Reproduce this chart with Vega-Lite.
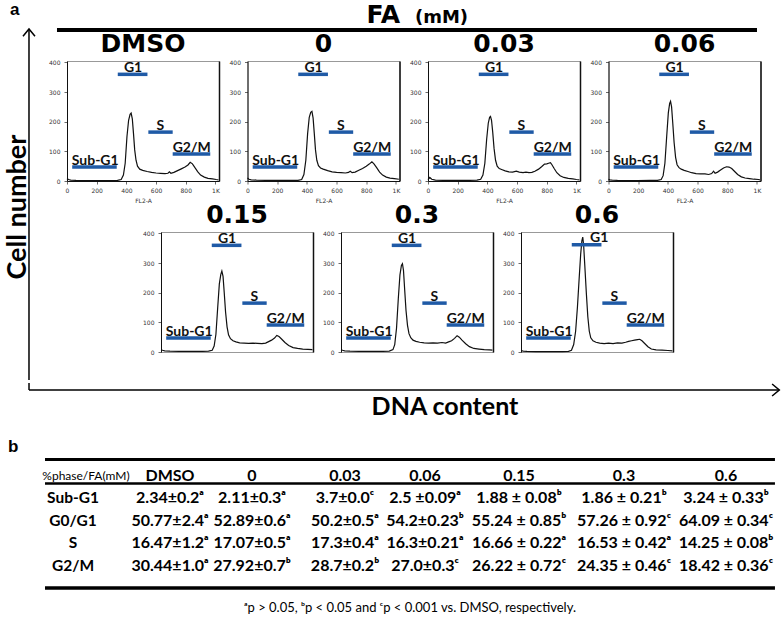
{
"$schema":"https://vega.github.io/schema/vega-lite/v6.json",
"padding":0,
"background":"#ffffff",
"config":{
 "font":"DejaVu Sans",
 "view":{"stroke":null},
 "axis":{"grid":false,"labelFont":"DejaVu Sans","labelFontSize":6,"labelColor":"#333","tickColor":"#444","tickWidth":0.8,"domainColor":"#111","domainWidth":1,"titleFont":"DejaVu Sans","titleFontSize":6,"titleFontWeight":"normal","titleColor":"#333"},
 "axisX":{"values":[0,50,100,150,200,250,300,350,400,450,500,550,600,650,700,750,800,850,900,950,1000],"labelExpr":"datum.value === 1000 ? '1K' : (datum.value % 200 === 0 ? datum.label : '')","labelFlush":false,"labelOverlap":false,"labelPadding":3,"titlePadding":4},
 "axisY":{"values":[0,20,40,60,80,100,120,140,160,180,200,220,240,260,280,300,320,340,360,380,400],"labelExpr":"datum.value % 100 === 0 ? datum.label : ''","labelOverlap":false,"labelPadding":4},
 "title":{"font":"DejaVu Sans","fontWeight":"bold","fontSize":25,"color":"#000","offset":2}
},
"datasets":{
 "hist":[
  {"p":"DMSO","x":0,"y":8},{"p":"DMSO","x":10,"y":5},{"p":"DMSO","x":25,"y":3},{"p":"DMSO","x":60,"y":2},{"p":"DMSO","x":120,"y":1},{"p":"DMSO","x":200,"y":1},{"p":"DMSO","x":280,"y":1},{"p":"DMSO","x":340,"y":2},{"p":"DMSO","x":365,"y":5},{"p":"DMSO","x":380,"y":20},{"p":"DMSO","x":392,"y":60},{"p":"DMSO","x":404,"y":150},{"p":"DMSO","x":415,"y":205},{"p":"DMSO","x":425,"y":225},{"p":"DMSO","x":432,"y":229},{"p":"DMSO","x":440,"y":210},{"p":"DMSO","x":448,"y":160},{"p":"DMSO","x":456,"y":105},{"p":"DMSO","x":465,"y":70},{"p":"DMSO","x":475,"y":50},{"p":"DMSO","x":490,"y":40},{"p":"DMSO","x":510,"y":36},{"p":"DMSO","x":540,"y":32},{"p":"DMSO","x":570,"y":29},{"p":"DMSO","x":600,"y":27},{"p":"DMSO","x":630,"y":26},{"p":"DMSO","x":660,"y":25},{"p":"DMSO","x":680,"y":26},{"p":"DMSO","x":690,"y":31},{"p":"DMSO","x":700,"y":26},{"p":"DMSO","x":720,"y":29},{"p":"DMSO","x":745,"y":35},{"p":"DMSO","x":770,"y":41},{"p":"DMSO","x":795,"y":47},{"p":"DMSO","x":815,"y":54},{"p":"DMSO","x":830,"y":63},{"p":"DMSO","x":845,"y":58},{"p":"DMSO","x":862,"y":45},{"p":"DMSO","x":880,"y":32},{"p":"DMSO","x":900,"y":20},{"p":"DMSO","x":925,"y":13},{"p":"DMSO","x":950,"y":9},{"p":"DMSO","x":980,"y":7},{"p":"DMSO","x":1005,"y":5},{"p":"DMSO","x":1020,"y":4},
  {"p":"0","x":0,"y":10},{"p":"0","x":10,"y":6},{"p":"0","x":25,"y":4},{"p":"0","x":60,"y":3},{"p":"0","x":120,"y":2},{"p":"0","x":200,"y":2},{"p":"0","x":280,"y":2},{"p":"0","x":340,"y":2},{"p":"0","x":365,"y":5},{"p":"0","x":380,"y":22},{"p":"0","x":393,"y":70},{"p":"0","x":405,"y":160},{"p":"0","x":416,"y":215},{"p":"0","x":426,"y":232},{"p":"0","x":434,"y":235},{"p":"0","x":442,"y":212},{"p":"0","x":450,"y":160},{"p":"0","x":458,"y":105},{"p":"0","x":467,"y":70},{"p":"0","x":478,"y":52},{"p":"0","x":492,"y":44},{"p":"0","x":510,"y":40},{"p":"0","x":540,"y":35},{"p":"0","x":570,"y":31},{"p":"0","x":600,"y":29},{"p":"0","x":630,"y":28},{"p":"0","x":660,"y":27},{"p":"0","x":680,"y":29},{"p":"0","x":692,"y":33},{"p":"0","x":705,"y":28},{"p":"0","x":725,"y":30},{"p":"0","x":750,"y":36},{"p":"0","x":775,"y":42},{"p":"0","x":800,"y":50},{"p":"0","x":820,"y":57},{"p":"0","x":838,"y":65},{"p":"0","x":852,"y":58},{"p":"0","x":870,"y":45},{"p":"0","x":890,"y":30},{"p":"0","x":910,"y":20},{"p":"0","x":935,"y":13},{"p":"0","x":960,"y":10},{"p":"0","x":990,"y":8},{"p":"0","x":1020,"y":6},
  {"p":"0.03","x":0,"y":5},{"p":"0.03","x":12,"y":12},{"p":"0.03","x":25,"y":6},{"p":"0.03","x":50,"y":3},{"p":"0.03","x":100,"y":2},{"p":"0.03","x":200,"y":2},{"p":"0.03","x":280,"y":2},{"p":"0.03","x":330,"y":3},{"p":"0.03","x":355,"y":6},{"p":"0.03","x":370,"y":20},{"p":"0.03","x":383,"y":60},{"p":"0.03","x":395,"y":140},{"p":"0.03","x":406,"y":195},{"p":"0.03","x":415,"y":215},{"p":"0.03","x":421,"y":218},{"p":"0.03","x":428,"y":205},{"p":"0.03","x":436,"y":165},{"p":"0.03","x":445,"y":110},{"p":"0.03","x":455,"y":70},{"p":"0.03","x":466,"y":50},{"p":"0.03","x":480,"y":42},{"p":"0.03","x":500,"y":38},{"p":"0.03","x":520,"y":34},{"p":"0.03","x":545,"y":31},{"p":"0.03","x":570,"y":30},{"p":"0.03","x":595,"y":33},{"p":"0.03","x":615,"y":30},{"p":"0.03","x":640,"y":28},{"p":"0.03","x":660,"y":30},{"p":"0.03","x":680,"y":28},{"p":"0.03","x":700,"y":29},{"p":"0.03","x":720,"y":33},{"p":"0.03","x":745,"y":40},{"p":"0.03","x":765,"y":48},{"p":"0.03","x":785,"y":57},{"p":"0.03","x":800,"y":58},{"p":"0.03","x":812,"y":60},{"p":"0.03","x":825,"y":62},{"p":"0.03","x":835,"y":55},{"p":"0.03","x":850,"y":42},{"p":"0.03","x":868,"y":28},{"p":"0.03","x":890,"y":18},{"p":"0.03","x":915,"y":12},{"p":"0.03","x":945,"y":9},{"p":"0.03","x":975,"y":7},{"p":"0.03","x":1000,"y":5},{"p":"0.03","x":1020,"y":4},
  {"p":"0.06","x":0,"y":6},{"p":"0.06","x":10,"y":4},{"p":"0.06","x":25,"y":3},{"p":"0.06","x":60,"y":2},{"p":"0.06","x":120,"y":1},{"p":"0.06","x":200,"y":1},{"p":"0.06","x":280,"y":2},{"p":"0.06","x":330,"y":2},{"p":"0.06","x":355,"y":5},{"p":"0.06","x":368,"y":18},{"p":"0.06","x":380,"y":60},{"p":"0.06","x":392,"y":150},{"p":"0.06","x":403,"y":230},{"p":"0.06","x":412,"y":262},{"p":"0.06","x":418,"y":269},{"p":"0.06","x":425,"y":250},{"p":"0.06","x":433,"y":195},{"p":"0.06","x":442,"y":130},{"p":"0.06","x":452,"y":80},{"p":"0.06","x":462,"y":55},{"p":"0.06","x":475,"y":45},{"p":"0.06","x":490,"y":40},{"p":"0.06","x":510,"y":36},{"p":"0.06","x":535,"y":32},{"p":"0.06","x":560,"y":28},{"p":"0.06","x":590,"y":25},{"p":"0.06","x":620,"y":24},{"p":"0.06","x":650,"y":24},{"p":"0.06","x":675,"y":22},{"p":"0.06","x":695,"y":25},{"p":"0.06","x":708,"y":33},{"p":"0.06","x":718,"y":26},{"p":"0.06","x":735,"y":30},{"p":"0.06","x":755,"y":37},{"p":"0.06","x":775,"y":44},{"p":"0.06","x":795,"y":48},{"p":"0.06","x":812,"y":47},{"p":"0.06","x":830,"y":42},{"p":"0.06","x":850,"y":32},{"p":"0.06","x":870,"y":22},{"p":"0.06","x":895,"y":14},{"p":"0.06","x":920,"y":10},{"p":"0.06","x":950,"y":8},{"p":"0.06","x":980,"y":6},{"p":"0.06","x":1010,"y":5},{"p":"0.06","x":1020,"y":4},
  {"p":"0.15","x":0,"y":8},{"p":"0.15","x":10,"y":6},{"p":"0.15","x":25,"y":4},{"p":"0.15","x":60,"y":3},{"p":"0.15","x":120,"y":2},{"p":"0.15","x":200,"y":2},{"p":"0.15","x":280,"y":2},{"p":"0.15","x":320,"y":3},{"p":"0.15","x":345,"y":6},{"p":"0.15","x":358,"y":20},{"p":"0.15","x":370,"y":60},{"p":"0.15","x":382,"y":150},{"p":"0.15","x":393,"y":230},{"p":"0.15","x":403,"y":262},{"p":"0.15","x":410,"y":273},{"p":"0.15","x":418,"y":255},{"p":"0.15","x":426,"y":200},{"p":"0.15","x":435,"y":135},{"p":"0.15","x":445,"y":85},{"p":"0.15","x":455,"y":58},{"p":"0.15","x":468,"y":45},{"p":"0.15","x":485,"y":38},{"p":"0.15","x":505,"y":34},{"p":"0.15","x":530,"y":31},{"p":"0.15","x":560,"y":30},{"p":"0.15","x":590,"y":29},{"p":"0.15","x":620,"y":30},{"p":"0.15","x":650,"y":29},{"p":"0.15","x":680,"y":28},{"p":"0.15","x":705,"y":30},{"p":"0.15","x":725,"y":35},{"p":"0.15","x":745,"y":40},{"p":"0.15","x":765,"y":47},{"p":"0.15","x":780,"y":56},{"p":"0.15","x":795,"y":52},{"p":"0.15","x":812,"y":44},{"p":"0.15","x":835,"y":32},{"p":"0.15","x":860,"y":22},{"p":"0.15","x":890,"y":15},{"p":"0.15","x":920,"y":12},{"p":"0.15","x":955,"y":10},{"p":"0.15","x":990,"y":9},{"p":"0.15","x":1020,"y":8},
  {"p":"0.3","x":0,"y":8},{"p":"0.3","x":10,"y":6},{"p":"0.3","x":25,"y":4},{"p":"0.3","x":60,"y":3},{"p":"0.3","x":120,"y":2},{"p":"0.3","x":200,"y":2},{"p":"0.3","x":280,"y":2},{"p":"0.3","x":325,"y":3},{"p":"0.3","x":350,"y":8},{"p":"0.3","x":362,"y":25},{"p":"0.3","x":374,"y":80},{"p":"0.3","x":386,"y":180},{"p":"0.3","x":397,"y":260},{"p":"0.3","x":407,"y":292},{"p":"0.3","x":414,"y":298},{"p":"0.3","x":421,"y":275},{"p":"0.3","x":429,"y":210},{"p":"0.3","x":438,"y":140},{"p":"0.3","x":448,"y":90},{"p":"0.3","x":458,"y":62},{"p":"0.3","x":470,"y":48},{"p":"0.3","x":485,"y":40},{"p":"0.3","x":505,"y":36},{"p":"0.3","x":530,"y":33},{"p":"0.3","x":560,"y":31},{"p":"0.3","x":590,"y":30},{"p":"0.3","x":620,"y":31},{"p":"0.3","x":650,"y":30},{"p":"0.3","x":680,"y":32},{"p":"0.3","x":705,"y":30},{"p":"0.3","x":725,"y":34},{"p":"0.3","x":745,"y":38},{"p":"0.3","x":765,"y":46},{"p":"0.3","x":782,"y":55},{"p":"0.3","x":797,"y":50},{"p":"0.3","x":815,"y":40},{"p":"0.3","x":840,"y":28},{"p":"0.3","x":865,"y":18},{"p":"0.3","x":895,"y":12},{"p":"0.3","x":930,"y":10},{"p":"0.3","x":965,"y":8},{"p":"0.3","x":1000,"y":7},{"p":"0.3","x":1020,"y":6},
  {"p":"0.6","x":0,"y":5},{"p":"0.6","x":15,"y":3},{"p":"0.6","x":40,"y":2},{"p":"0.6","x":100,"y":1},{"p":"0.6","x":200,"y":1},{"p":"0.6","x":280,"y":1},{"p":"0.6","x":320,"y":2},{"p":"0.6","x":340,"y":6},{"p":"0.6","x":355,"y":25},{"p":"0.6","x":368,"y":70},{"p":"0.6","x":380,"y":150},{"p":"0.6","x":392,"y":250},{"p":"0.6","x":402,"y":330},{"p":"0.6","x":410,"y":375},{"p":"0.6","x":416,"y":388},{"p":"0.6","x":422,"y":360},{"p":"0.6","x":430,"y":290},{"p":"0.6","x":440,"y":200},{"p":"0.6","x":450,"y":120},{"p":"0.6","x":460,"y":70},{"p":"0.6","x":470,"y":48},{"p":"0.6","x":485,"y":38},{"p":"0.6","x":505,"y":33},{"p":"0.6","x":530,"y":30},{"p":"0.6","x":560,"y":28},{"p":"0.6","x":590,"y":30},{"p":"0.6","x":620,"y":28},{"p":"0.6","x":650,"y":31},{"p":"0.6","x":680,"y":30},{"p":"0.6","x":705,"y":33},{"p":"0.6","x":725,"y":36},{"p":"0.6","x":745,"y":38},{"p":"0.6","x":765,"y":40},{"p":"0.6","x":785,"y":42},{"p":"0.6","x":800,"y":43},{"p":"0.6","x":815,"y":38},{"p":"0.6","x":835,"y":28},{"p":"0.6","x":855,"y":18},{"p":"0.6","x":878,"y":10},{"p":"0.6","x":910,"y":7},{"p":"0.6","x":950,"y":6},{"p":"0.6","x":990,"y":5},{"p":"0.6","x":1020,"y":4}
 ],
 "g":[{"ph":"Sub-G1","lo":35,"hi":335,"lv":47,"xm":190},{"ph":"G1","lo":342,"hi":542,"lv":360,"xm":445},{"ph":"S","lo":548,"hi":712,"lv":165,"xm":628},{"ph":"G2/M","lo":712,"hi":965,"lv":91,"xm":840}],
 "g6":[{"ph":"Sub-G1","lo":35,"hi":335,"lv":47,"xm":190},{"ph":"G1","lo":342,"hi":542,"lv":362,"xm":527},{"ph":"S","lo":548,"hi":712,"lv":165,"xm":628},{"ph":"G2/M","lo":712,"hi":965,"lv":91,"xm":840}],
 "tbl":[
  {"r":0,"c":0,"t":"%phase/FA(mM)"},{"r":0,"c":1,"t":"DMSO"},{"r":0,"c":2,"t":"0"},{"r":0,"c":3,"t":"0.03"},{"r":0,"c":4,"t":"0.06"},{"r":0,"c":5,"t":"0.15"},{"r":0,"c":6,"t":"0.3"},{"r":0,"c":7,"t":"0.6"},
  {"r":1,"c":0,"t":"Sub-G1"},{"r":1,"c":1,"t":"2.34±0.2ᵃ"},{"r":1,"c":2,"t":"2.11±0.3ᵃ"},{"r":1,"c":3,"t":"3.7±0.0ᶜ"},{"r":1,"c":4,"t":"2.5 ±0.09ᵃ"},{"r":1,"c":5,"t":"1.88 ± 0.08ᵇ"},{"r":1,"c":6,"t":"1.86 ± 0.21ᵇ"},{"r":1,"c":7,"t":"3.24 ± 0.33ᵇ"},
  {"r":2,"c":0,"t":"G0/G1"},{"r":2,"c":1,"t":"50.77±2.4ᵃ"},{"r":2,"c":2,"t":"52.89±0.6ᵃ"},{"r":2,"c":3,"t":"50.2±0.5ᵃ"},{"r":2,"c":4,"t":"54.2±0.23ᵇ"},{"r":2,"c":5,"t":"55.24 ± 0.85ᵇ"},{"r":2,"c":6,"t":"57.26 ± 0.92ᶜ"},{"r":2,"c":7,"t":"64.09 ± 0.34ᶜ"},
  {"r":3,"c":0,"t":"S"},{"r":3,"c":1,"t":"16.47±1.2ᵃ"},{"r":3,"c":2,"t":"17.07±0.5ᵃ"},{"r":3,"c":3,"t":"17.3±0.4ᵃ"},{"r":3,"c":4,"t":"16.3±0.21ᵃ"},{"r":3,"c":5,"t":"16.66 ± 0.22ᵃ"},{"r":3,"c":6,"t":"16.53 ± 0.42ᵃ"},{"r":3,"c":7,"t":"14.25 ± 0.08ᵇ"},
  {"r":4,"c":0,"t":"G2/M"},{"r":4,"c":1,"t":"30.44±1.0ᵃ"},{"r":4,"c":2,"t":"27.92±0.7ᵇ"},{"r":4,"c":3,"t":"28.7±0.2ᵇ"},{"r":4,"c":4,"t":"27.0±0.3ᶜ"},{"r":4,"c":5,"t":"26.22 ± 0.72ᶜ"},{"r":4,"c":6,"t":"24.35 ± 0.46ᶜ"},{"r":4,"c":7,"t":"18.42 ± 0.36ᶜ"}
 ]
},
"spacing":0,
"vconcat":[
 {"spacing":0,"hconcat":[
  {"width":48,"height":380,
   "layer":[
    {"data":{"values":[{}]},"mark":{"type":"rule","color":"#000","strokeWidth":1.5},
     "encoding":{"x":{"datum":0.604,"type":"quantitative","scale":{"domain":[0,1],"nice":false,"zero":false},"axis":null},"y":{"datum":0.0763,"type":"quantitative","scale":{"domain":[0,1],"nice":false,"zero":false,"reverse":true},"axis":null},"y2":{"datum":1}}},
    {"data":{"values":[{}]},"mark":{"type":"point","shape":"M -1 1.2 L 0 0 L 1 1.2","size":144,"filled":false,"color":"#000","strokeWidth":1.5,"opacity":1},
     "encoding":{"x":{"datum":0.604,"type":"quantitative","axis":null},"y":{"datum":0.0763,"type":"quantitative","axis":null}}},
    {"data":{"values":[{}]},"mark":{"type":"text","text":"Cell number","angle":270,"font":"Lato","fontWeight":"bold","fontSize":27,"color":"#000","align":"center","baseline":"middle"},
     "encoding":{"x":{"datum":0.375,"type":"quantitative","axis":null},"y":{"datum":0.545,"type":"quantitative","axis":null}}},
    {"data":{"values":[{}]},"mark":{"type":"text","text":"a","font":"Liberation Sans","fontWeight":"bold","fontSize":17,"color":"#000","align":"left","baseline":"middle"},
     "encoding":{"x":{"datum":0.208,"type":"quantitative","axis":null},"y":{"datum":0.026,"type":"quantitative","axis":null}}}
   ]},
  {"spacing":-2,"vconcat":[
   {"width":700,"height":33,
    "layer":[
     {"data":{"values":[{}]},"mark":{"type":"text","text":"FA","font":"DejaVu Sans","fontWeight":"bold","fontSize":25,"color":"#000","align":"right","baseline":"alphabetic"},
      "encoding":{"x":{"datum":0.4757,"type":"quantitative","scale":{"domain":[0,1],"nice":false,"zero":false},"axis":null},"y":{"datum":0.697,"type":"quantitative","scale":{"domain":[0,1],"nice":false,"zero":false,"reverse":true},"axis":null}}},
     {"data":{"values":[{}]},"mark":{"type":"text","text":"(mM)","font":"DejaVu Sans","fontWeight":"bold","fontSize":18,"color":"#000","align":"left","baseline":"alphabetic"},
      "encoding":{"x":{"datum":0.4971,"type":"quantitative","axis":null},"y":{"datum":0.697,"type":"quantitative","axis":null}}},
     {"data":{"values":[{}]},"mark":{"type":"rule","color":"#000","strokeWidth":4},
      "encoding":{"x":{"datum":-0.0143,"type":"quantitative","axis":null},"x2":{"datum":0.9857},"y":{"datum":0.909,"type":"quantitative","axis":null}}}
    ]},
   {"spacing":-2,"vconcat":[
    {"spacing":6.5,"hconcat":[
     {"width":152,"height":120,"title":"DMSO","view":{"stroke":"#999"},
      "layer":[
       {"data":{"name":"hist"},"transform":[{"filter":"datum.p === 'DMSO'"}],"mark":{"type":"line","color":"#111","strokeWidth":1.2},
        "encoding":{"x":{"field":"x","type":"quantitative","scale":{"domain":[0,1024],"nice":false,"zero":false},"axis":{"title":"FL2-A","tickSize":{"condition":{"test":"datum.value % 200 === 0","value":3},"value":1.5}}},"y":{"field":"y","type":"quantitative","scale":{"domain":[0,405],"nice":false},"axis":{"title":null,"tickSize":{"condition":{"test":"datum.value % 100 === 0","value":3},"value":1.5}}}}},
       {"data":{"name":"g"},"mark":{"type":"rule","color":"#1f5aa6","strokeWidth":3.5},
        "encoding":{"x":{"field":"lo","type":"quantitative","axis":{"title":"FL2-A"}},"x2":{"field":"hi"},"y":{"field":"lv","type":"quantitative","axis":{"orient":"right","labels":false,"ticks":false,"title":null,"domainColor":"#111","domainWidth":1.5}}}},
       {"data":{"name":"g"},"mark":{"type":"text","font":"Lato","fontWeight":"bold","fontSize":14,"color":"#111","baseline":"alphabetic","dy":-2.5},
        "encoding":{"x":{"field":"xm","type":"quantitative","axis":{"title":"FL2-A"}},"y":{"field":"lv","type":"quantitative","axis":null},"text":{"field":"ph"}}}
      ],
      "resolve":{"axis":{"y":"independent"}}},
     {"width":152,"height":120,"title":"0","view":{"stroke":"#999"},
      "layer":[
       {"data":{"name":"hist"},"transform":[{"filter":"datum.p === '0'"}],"mark":{"type":"line","color":"#111","strokeWidth":1.2},
        "encoding":{"x":{"field":"x","type":"quantitative","scale":{"domain":[0,1024],"nice":false,"zero":false},"axis":{"title":"FL2-A","tickSize":{"condition":{"test":"datum.value % 200 === 0","value":3},"value":1.5}}},"y":{"field":"y","type":"quantitative","scale":{"domain":[0,405],"nice":false},"axis":{"title":null,"tickSize":{"condition":{"test":"datum.value % 100 === 0","value":3},"value":1.5}}}}},
       {"data":{"name":"g"},"mark":{"type":"rule","color":"#1f5aa6","strokeWidth":3.5},
        "encoding":{"x":{"field":"lo","type":"quantitative","axis":{"title":"FL2-A"}},"x2":{"field":"hi"},"y":{"field":"lv","type":"quantitative","axis":{"orient":"right","labels":false,"ticks":false,"title":null,"domainColor":"#111","domainWidth":1.5}}}},
       {"data":{"name":"g"},"mark":{"type":"text","font":"Lato","fontWeight":"bold","fontSize":14,"color":"#111","baseline":"alphabetic","dy":-2.5},
        "encoding":{"x":{"field":"xm","type":"quantitative","axis":{"title":"FL2-A"}},"y":{"field":"lv","type":"quantitative","axis":null},"text":{"field":"ph"}}}
      ],
      "resolve":{"axis":{"y":"independent"}}},
     {"width":152,"height":120,"title":"0.03","view":{"stroke":"#999"},
      "layer":[
       {"data":{"name":"hist"},"transform":[{"filter":"datum.p === '0.03'"}],"mark":{"type":"line","color":"#111","strokeWidth":1.2},
        "encoding":{"x":{"field":"x","type":"quantitative","scale":{"domain":[0,1024],"nice":false,"zero":false},"axis":{"title":"FL2-A","tickSize":{"condition":{"test":"datum.value % 200 === 0","value":3},"value":1.5}}},"y":{"field":"y","type":"quantitative","scale":{"domain":[0,405],"nice":false},"axis":{"title":null,"tickSize":{"condition":{"test":"datum.value % 100 === 0","value":3},"value":1.5}}}}},
       {"data":{"name":"g"},"mark":{"type":"rule","color":"#1f5aa6","strokeWidth":3.5},
        "encoding":{"x":{"field":"lo","type":"quantitative","axis":{"title":"FL2-A"}},"x2":{"field":"hi"},"y":{"field":"lv","type":"quantitative","axis":{"orient":"right","labels":false,"ticks":false,"title":null,"domainColor":"#111","domainWidth":1.5}}}},
       {"data":{"name":"g"},"mark":{"type":"text","font":"Lato","fontWeight":"bold","fontSize":14,"color":"#111","baseline":"alphabetic","dy":-2.5},
        "encoding":{"x":{"field":"xm","type":"quantitative","axis":{"title":"FL2-A"}},"y":{"field":"lv","type":"quantitative","axis":null},"text":{"field":"ph"}}}
      ],
      "resolve":{"axis":{"y":"independent"}}},
     {"width":152,"height":120,"title":"0.06","view":{"stroke":"#999"},
      "layer":[
       {"data":{"name":"hist"},"transform":[{"filter":"datum.p === '0.06'"}],"mark":{"type":"line","color":"#111","strokeWidth":1.2},
        "encoding":{"x":{"field":"x","type":"quantitative","scale":{"domain":[0,1024],"nice":false,"zero":false},"axis":{"title":"FL2-A","tickSize":{"condition":{"test":"datum.value % 200 === 0","value":3},"value":1.5}}},"y":{"field":"y","type":"quantitative","scale":{"domain":[0,405],"nice":false},"axis":{"title":null,"tickSize":{"condition":{"test":"datum.value % 100 === 0","value":3},"value":1.5}}}}},
       {"data":{"name":"g"},"mark":{"type":"rule","color":"#1f5aa6","strokeWidth":3.5},
        "encoding":{"x":{"field":"lo","type":"quantitative","axis":{"title":"FL2-A"}},"x2":{"field":"hi"},"y":{"field":"lv","type":"quantitative","axis":{"orient":"right","labels":false,"ticks":false,"title":null,"domainColor":"#111","domainWidth":1.5}}}},
       {"data":{"name":"g"},"mark":{"type":"text","font":"Lato","fontWeight":"bold","fontSize":14,"color":"#111","baseline":"alphabetic","dy":-2.5},
        "encoding":{"x":{"field":"xm","type":"quantitative","axis":{"title":"FL2-A"}},"y":{"field":"lv","type":"quantitative","axis":null},"text":{"field":"ph"}}}
      ],
      "resolve":{"axis":{"y":"independent"}}}
    ]},
    {"spacing":6,"hconcat":[
     {"width":69,"height":10,"data":{"values":[]},"mark":"point"},
     {"width":152,"height":120,"title":"0.15","view":{"stroke":"#999"},
      "layer":[
       {"data":{"name":"hist"},"transform":[{"filter":"datum.p === '0.15'"}],"mark":{"type":"line","color":"#111","strokeWidth":1.2},
        "encoding":{"x":{"field":"x","type":"quantitative","scale":{"domain":[0,1024],"nice":false,"zero":false},"axis":{"title":null,"tickSize":{"condition":{"test":"datum.value % 200 === 0","value":3},"value":1.5}}},"y":{"field":"y","type":"quantitative","scale":{"domain":[0,405],"nice":false},"axis":{"title":null,"tickSize":{"condition":{"test":"datum.value % 100 === 0","value":3},"value":1.5}}}}},
       {"data":{"name":"g"},"mark":{"type":"rule","color":"#1f5aa6","strokeWidth":3.5},
        "encoding":{"x":{"field":"lo","type":"quantitative","axis":null},"x2":{"field":"hi"},"y":{"field":"lv","type":"quantitative","axis":{"orient":"right","labels":false,"ticks":false,"title":null,"domainColor":"#111","domainWidth":1.5}}}},
       {"data":{"name":"g"},"mark":{"type":"text","font":"Lato","fontWeight":"bold","fontSize":14,"color":"#111","baseline":"alphabetic","dy":-2.5},
        "encoding":{"x":{"field":"xm","type":"quantitative","axis":null},"y":{"field":"lv","type":"quantitative","axis":null},"text":{"field":"ph"}}}
      ],
      "resolve":{"axis":{"y":"independent"}}},
     {"width":152,"height":120,"title":"0.3","view":{"stroke":"#999"},
      "layer":[
       {"data":{"name":"hist"},"transform":[{"filter":"datum.p === '0.3'"}],"mark":{"type":"line","color":"#111","strokeWidth":1.2},
        "encoding":{"x":{"field":"x","type":"quantitative","scale":{"domain":[0,1024],"nice":false,"zero":false},"axis":{"title":null,"tickSize":{"condition":{"test":"datum.value % 200 === 0","value":3},"value":1.5}}},"y":{"field":"y","type":"quantitative","scale":{"domain":[0,405],"nice":false},"axis":{"title":null,"tickSize":{"condition":{"test":"datum.value % 100 === 0","value":3},"value":1.5}}}}},
       {"data":{"name":"g"},"mark":{"type":"rule","color":"#1f5aa6","strokeWidth":3.5},
        "encoding":{"x":{"field":"lo","type":"quantitative","axis":null},"x2":{"field":"hi"},"y":{"field":"lv","type":"quantitative","axis":{"orient":"right","labels":false,"ticks":false,"title":null,"domainColor":"#111","domainWidth":1.5}}}},
       {"data":{"name":"g"},"mark":{"type":"text","font":"Lato","fontWeight":"bold","fontSize":14,"color":"#111","baseline":"alphabetic","dy":-2.5},
        "encoding":{"x":{"field":"xm","type":"quantitative","axis":null},"y":{"field":"lv","type":"quantitative","axis":null},"text":{"field":"ph"}}}
      ],
      "resolve":{"axis":{"y":"independent"}}},
     {"width":152,"height":120,"title":"0.6","view":{"stroke":"#999"},
      "layer":[
       {"data":{"name":"hist"},"transform":[{"filter":"datum.p === '0.6'"}],"mark":{"type":"line","color":"#111","strokeWidth":1.2},
        "encoding":{"x":{"field":"x","type":"quantitative","scale":{"domain":[0,1024],"nice":false,"zero":false},"axis":{"title":null,"tickSize":{"condition":{"test":"datum.value % 200 === 0","value":3},"value":1.5}}},"y":{"field":"y","type":"quantitative","scale":{"domain":[0,405],"nice":false},"axis":{"title":null,"tickSize":{"condition":{"test":"datum.value % 100 === 0","value":3},"value":1.5}}}}},
       {"data":{"name":"g6"},"mark":{"type":"rule","color":"#1f5aa6","strokeWidth":3.5},
        "encoding":{"x":{"field":"lo","type":"quantitative","axis":null},"x2":{"field":"hi"},"y":{"field":"lv","type":"quantitative","axis":{"orient":"right","labels":false,"ticks":false,"title":null,"domainColor":"#111","domainWidth":1.5}}}},
       {"data":{"name":"g6"},"mark":{"type":"text","font":"Lato","fontWeight":"bold","fontSize":14,"color":"#111","baseline":"alphabetic","dy":-2.5},
        "encoding":{"x":{"field":"xm","type":"quantitative","axis":null},"y":{"field":"lv","type":"quantitative","axis":null},"text":{"field":"ph"}}}
      ],
      "resolve":{"axis":{"y":"independent"}}}
    ]}
   ]}
  ]}
 ]},
 {"width":784,"height":75,
  "layer":[
   {"data":{"values":[{}]},"mark":{"type":"rule","color":"#000","strokeWidth":1.5},
    "encoding":{"x":{"datum":0.037,"type":"quantitative","scale":{"domain":[0,1],"nice":false,"zero":false},"axis":null},"x2":{"datum":0.994},"y":{"datum":0.107,"type":"quantitative","scale":{"domain":[0,1],"nice":false,"zero":false,"reverse":true},"axis":null}}},
   {"data":{"values":[{}]},"mark":{"type":"rule","color":"#000","strokeWidth":1.5},
    "encoding":{"x":{"datum":0.037,"type":"quantitative","axis":null},"y":{"datum":0.012,"type":"quantitative","axis":null},"y2":{"datum":0.107}}},
   {"data":{"values":[{}]},"mark":{"type":"point","shape":"M -1.2 -1 L 0 0 L -1.2 1","size":144,"filled":false,"color":"#000","strokeWidth":1.5,"opacity":1},
    "encoding":{"x":{"datum":0.994,"type":"quantitative","axis":null},"y":{"datum":0.107,"type":"quantitative","axis":null}}},
   {"data":{"values":[{}]},"mark":{"type":"text","text":"DNA content","font":"Lato","fontWeight":"bold","fontSize":25,"color":"#000","align":"center","baseline":"middle"},
    "encoding":{"x":{"datum":0.5676,"type":"quantitative","axis":null},"y":{"datum":0.335,"type":"quantitative","axis":null}}},
   {"data":{"values":[{}]},"mark":{"type":"text","text":"b","font":"Liberation Sans","fontWeight":"bold","fontSize":17,"color":"#000","align":"left","baseline":"middle"},
    "encoding":{"x":{"datum":0.0102,"type":"quantitative","axis":null},"y":{"datum":0.861,"type":"quantitative","axis":null}}}
  ]},
 {"width":784,"height":138,
  "title":{"text":"ᵃp > 0.05, ᵇp < 0.05 and ᶜp < 0.001 vs. DMSO, respectively.","orient":"bottom","anchor":"middle","frame":"group","font":"Lato","fontSize":13,"fontWeight":"normal","offset":6,"dx":18},
  "layer":[
   {"data":{"name":"tbl"},"transform":[{"filter":"datum.r === 0 && datum.c === 0"}],"mark":{"type":"text","font":"Lato","fontSize":12,"color":"#000"},
    "encoding":{"x":{"field":"c","type":"quantitative","scale":{"domain":[0,1,2,3,4,5,6,7],"range":[86,170,252,345,425,519,624,726],"nice":false,"zero":false},"axis":null},"y":{"field":"r","type":"quantitative","scale":{"domain":[-0.782,5.351],"reverse":true,"nice":false,"zero":false},"axis":null},"text":{"field":"t"}}},
   {"data":{"name":"tbl"},"transform":[{"filter":"datum.r === 0 && datum.c > 0"}],"mark":{"type":"text","font":"Lato","fontWeight":"bold","fontSize":16,"color":"#000"},
    "encoding":{"x":{"field":"c","type":"quantitative","axis":null},"y":{"field":"r","type":"quantitative","axis":null},"text":{"field":"t"}}},
   {"data":{"name":"tbl"},"transform":[{"filter":"datum.r > 0 && datum.c === 0"}],"mark":{"type":"text","font":"Lato","fontWeight":"bold","fontSize":15.5,"color":"#000","dx":-13},
    "encoding":{"x":{"field":"c","type":"quantitative","axis":null},"y":{"field":"r","type":"quantitative","axis":null},"text":{"field":"t"}}},
   {"data":{"name":"tbl"},"transform":[{"filter":"datum.r > 0 && datum.c > 0"}],"mark":{"type":"text","font":"Lato","fontWeight":"bold","fontSize":16,"color":"#000"},
    "encoding":{"x":{"field":"c","type":"quantitative","axis":null},"y":{"field":"r","type":"quantitative","axis":null},"text":{"field":"t"}}},
   {"data":{"values":[{}]},"mark":{"type":"rule","color":"#000","strokeWidth":3},"encoding":{"x":{"datum":-0.488,"type":"quantitative","axis":null},"x2":{"datum":7.48},"y":{"datum":-0.72,"type":"quantitative","axis":null}}},
   {"data":{"values":[{}]},"mark":{"type":"rule","color":"#000","strokeWidth":2.5},"encoding":{"x":{"datum":-0.488,"type":"quantitative","axis":null},"x2":{"datum":7.48},"y":{"datum":0.356,"type":"quantitative","axis":null}}},
   {"data":{"values":[{}]},"mark":{"type":"rule","color":"#000","strokeWidth":3.5},"encoding":{"x":{"datum":-0.488,"type":"quantitative","axis":null},"x2":{"datum":7.48},"y":{"datum":5.0,"type":"quantitative","axis":null}}}
  ]}
]
}
